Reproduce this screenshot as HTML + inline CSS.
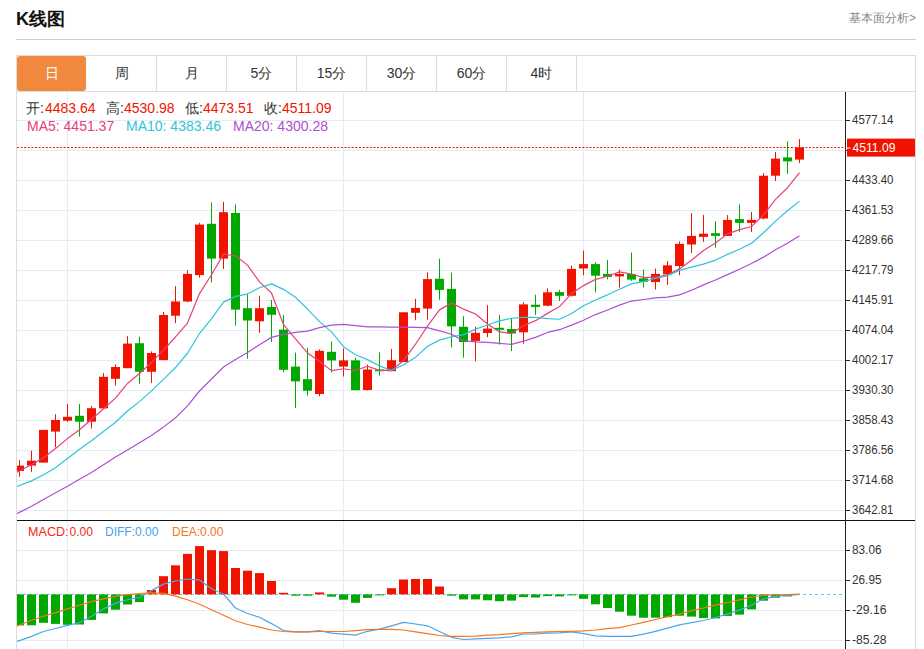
<!DOCTYPE html>
<html><head><meta charset="utf-8"><style>
html,body{margin:0;padding:0;background:#fff;}
body{width:924px;height:649px;overflow:hidden;position:relative;font-family:"Liberation Sans",sans-serif;}
.title{position:absolute;left:16px;top:8px;font-size:18px;font-weight:bold;color:#111;line-height:22px;}
.more{position:absolute;right:8px;top:10px;font-size:12px;color:#888;line-height:16px;}
.hr{position:absolute;left:16px;top:39px;width:900px;height:1px;background:#cfcfcf;}
.tabs{position:absolute;left:16px;top:55px;width:898px;height:35px;border:1px solid #dcdcdc;}
.tab{position:absolute;top:0;height:35px;width:70px;line-height:35px;text-align:center;font-size:14px;color:#333;border-right:1px solid #dcdcdc;box-sizing:border-box;}
.tab.on{background:#f0883e;color:#fff;border-right:none;border-radius:3px;top:0px;height:35px;line-height:35px;}
svg{position:absolute;left:0;top:0;}
.ax{font-size:13px;fill:#333;}
.leg{position:absolute;font-size:14px;white-space:nowrap;line-height:16px;}
.leg span{position:absolute;top:0;}
</style></head><body>
<div class="title">K线图</div>
<div class="more">基本面分析&gt;</div>
<div class="hr"></div>
<div class="tabs">
<div class="tab on" style="left:0px;width:69px">日</div>
<div class="tab" style="left:70px">周</div>
<div class="tab" style="left:140px">月</div>
<div class="tab" style="left:210px">5分</div>
<div class="tab" style="left:280px">15分</div>
<div class="tab" style="left:350px">30分</div>
<div class="tab" style="left:420px">60分</div>
<div class="tab" style="left:490px">4时</div>
</div>
<svg width="924" height="649" viewBox="0 0 924 649" style="font-family:'Liberation Sans',sans-serif">
<line x1="17" y1="120.5" x2="845" y2="120.5" stroke="#e3ecf3" stroke-width="1"/>
<line x1="17" y1="150.5" x2="845" y2="150.5" stroke="#e3ecf3" stroke-width="1"/>
<line x1="17" y1="180.5" x2="845" y2="180.5" stroke="#e3ecf3" stroke-width="1"/>
<line x1="17" y1="210.5" x2="845" y2="210.5" stroke="#e3ecf3" stroke-width="1"/>
<line x1="17" y1="240.5" x2="845" y2="240.5" stroke="#e3ecf3" stroke-width="1"/>
<line x1="17" y1="270.5" x2="845" y2="270.5" stroke="#e3ecf3" stroke-width="1"/>
<line x1="17" y1="300.5" x2="845" y2="300.5" stroke="#e3ecf3" stroke-width="1"/>
<line x1="17" y1="330.5" x2="845" y2="330.5" stroke="#e3ecf3" stroke-width="1"/>
<line x1="17" y1="360.5" x2="845" y2="360.5" stroke="#e3ecf3" stroke-width="1"/>
<line x1="17" y1="390.5" x2="845" y2="390.5" stroke="#e3ecf3" stroke-width="1"/>
<line x1="17" y1="420.5" x2="845" y2="420.5" stroke="#e3ecf3" stroke-width="1"/>
<line x1="17" y1="450.5" x2="845" y2="450.5" stroke="#e3ecf3" stroke-width="1"/>
<line x1="17" y1="480.5" x2="845" y2="480.5" stroke="#e3ecf3" stroke-width="1"/>
<line x1="17" y1="510.5" x2="845" y2="510.5" stroke="#e3ecf3" stroke-width="1"/>
<line x1="67.5" y1="92" x2="67.5" y2="520" stroke="#e3ecf3" stroke-width="1"/>
<line x1="67.5" y1="521" x2="67.5" y2="649" stroke="#e3ecf3" stroke-width="1"/>
<line x1="343.5" y1="92" x2="343.5" y2="520" stroke="#e3ecf3" stroke-width="1"/>
<line x1="343.5" y1="521" x2="343.5" y2="649" stroke="#e3ecf3" stroke-width="1"/>
<line x1="583.5" y1="92" x2="583.5" y2="520" stroke="#e3ecf3" stroke-width="1"/>
<line x1="583.5" y1="521" x2="583.5" y2="649" stroke="#e3ecf3" stroke-width="1"/>
<line x1="17" y1="550.5" x2="845" y2="550.5" stroke="#e3ecf3" stroke-width="1"/>
<line x1="17" y1="580.5" x2="845" y2="580.5" stroke="#e3ecf3" stroke-width="1"/>
<line x1="17" y1="610.5" x2="845" y2="610.5" stroke="#e3ecf3" stroke-width="1"/>
<line x1="17" y1="640.5" x2="845" y2="640.5" stroke="#e3ecf3" stroke-width="1"/>
<defs><clipPath id="cm"><rect x="17" y="92" width="828" height="428"/></clipPath><clipPath id="cd"><rect x="17" y="521" width="828" height="128"/></clipPath></defs>
<g clip-path="url(#cm)">
<rect x="19" y="460.2" width="1" height="16.5" fill="#f01400"/>
<rect x="15" y="465.6" width="9" height="5.4" fill="#f01400"/>
<rect x="31" y="450.8" width="1" height="21" fill="#f01400"/>
<rect x="27" y="460.7" width="9" height="4.9" fill="#f01400"/>
<rect x="43" y="429.9" width="1" height="32.7" fill="#f01400"/>
<rect x="39" y="429.9" width="9" height="32.7" fill="#f01400"/>
<rect x="55" y="414.3" width="1" height="32.8" fill="#f01400"/>
<rect x="51" y="420" width="9" height="11.6" fill="#f01400"/>
<rect x="67" y="404" width="1" height="17.7" fill="#f01400"/>
<rect x="63" y="416.8" width="9" height="3.9" fill="#f01400"/>
<rect x="79" y="404" width="1" height="32.5" fill="#00a800"/>
<rect x="75" y="415.8" width="9" height="5.9" fill="#00a800"/>
<rect x="91" y="405.9" width="1" height="22.7" fill="#f01400"/>
<rect x="87" y="408.2" width="9" height="13.5" fill="#f01400"/>
<rect x="103" y="373.1" width="1" height="35.3" fill="#f01400"/>
<rect x="99" y="376.8" width="9" height="31.6" fill="#f01400"/>
<rect x="115" y="364.5" width="1" height="21" fill="#f01400"/>
<rect x="111" y="367" width="9" height="11.8" fill="#f01400"/>
<rect x="127" y="336.2" width="1" height="32" fill="#f01400"/>
<rect x="123" y="343.6" width="9" height="24.6" fill="#f01400"/>
<rect x="139" y="336.6" width="1" height="47.3" fill="#00a800"/>
<rect x="135" y="343.2" width="9" height="28.6" fill="#00a800"/>
<rect x="151" y="351.4" width="1" height="31.5" fill="#f01400"/>
<rect x="147" y="353" width="9" height="18.8" fill="#f01400"/>
<rect x="163" y="312" width="1" height="48.1" fill="#f01400"/>
<rect x="159" y="315" width="9" height="45.1" fill="#f01400"/>
<rect x="175" y="286.2" width="1" height="36.9" fill="#f01400"/>
<rect x="171" y="301.5" width="9" height="14.2" fill="#f01400"/>
<rect x="187" y="270.2" width="1" height="32" fill="#f01400"/>
<rect x="183" y="273.9" width="9" height="27.6" fill="#f01400"/>
<rect x="199" y="222.8" width="1" height="54.8" fill="#f01400"/>
<rect x="195" y="224.6" width="9" height="50.5" fill="#f01400"/>
<rect x="211" y="202.4" width="1" height="80.1" fill="#00a800"/>
<rect x="207" y="223.8" width="9" height="34.8" fill="#00a800"/>
<rect x="223" y="201.9" width="1" height="67" fill="#f01400"/>
<rect x="219" y="212.2" width="9" height="46.4" fill="#f01400"/>
<rect x="235" y="204.4" width="1" height="121.2" fill="#00a800"/>
<rect x="231" y="213" width="9" height="96.6" fill="#00a800"/>
<rect x="247" y="293.4" width="1" height="65.3" fill="#00a800"/>
<rect x="243" y="308.2" width="9" height="12.3" fill="#00a800"/>
<rect x="259" y="295.9" width="1" height="36.9" fill="#f01400"/>
<rect x="255" y="308.2" width="9" height="13.1" fill="#f01400"/>
<rect x="271" y="300" width="1" height="42" fill="#00a800"/>
<rect x="267" y="307" width="9" height="7.8" fill="#00a800"/>
<rect x="283" y="315.1" width="1" height="57.2" fill="#00a800"/>
<rect x="279" y="329.6" width="9" height="40.2" fill="#00a800"/>
<rect x="295" y="352.6" width="1" height="55.4" fill="#00a800"/>
<rect x="291" y="366.6" width="9" height="14.8" fill="#00a800"/>
<rect x="307" y="347.9" width="1" height="47.8" fill="#00a800"/>
<rect x="303" y="379.2" width="9" height="11.5" fill="#00a800"/>
<rect x="319" y="349.3" width="1" height="46.9" fill="#f01400"/>
<rect x="315" y="350.8" width="9" height="43.2" fill="#f01400"/>
<rect x="331" y="341.5" width="1" height="30.8" fill="#00a800"/>
<rect x="327" y="351.8" width="9" height="8.6" fill="#00a800"/>
<rect x="343" y="348.4" width="1" height="28.1" fill="#f01400"/>
<rect x="339" y="360.4" width="9" height="6.2" fill="#f01400"/>
<rect x="355" y="357.5" width="1" height="32.7" fill="#00a800"/>
<rect x="351" y="360.4" width="9" height="29.8" fill="#00a800"/>
<rect x="367" y="364.6" width="1" height="25.9" fill="#f01400"/>
<rect x="363" y="369.5" width="9" height="20.5" fill="#f01400"/>
<rect x="379" y="352.3" width="1" height="23.4" fill="#00a800"/>
<rect x="375" y="369.5" width="9" height="1.7" fill="#00a800"/>
<rect x="391" y="349" width="1" height="22.2" fill="#f01400"/>
<rect x="387" y="360.2" width="9" height="11" fill="#f01400"/>
<rect x="403" y="312.3" width="1" height="49.8" fill="#f01400"/>
<rect x="399" y="312.3" width="9" height="49.8" fill="#f01400"/>
<rect x="415" y="298.8" width="1" height="21.4" fill="#f01400"/>
<rect x="411" y="307.9" width="9" height="4.9" fill="#f01400"/>
<rect x="427" y="272.2" width="1" height="47.3" fill="#f01400"/>
<rect x="423" y="279.1" width="9" height="29.5" fill="#f01400"/>
<rect x="439" y="258.6" width="1" height="41.2" fill="#00a800"/>
<rect x="435" y="278.8" width="9" height="11.1" fill="#00a800"/>
<rect x="451" y="272.7" width="1" height="74.6" fill="#00a800"/>
<rect x="447" y="288.9" width="9" height="37.5" fill="#00a800"/>
<rect x="463" y="316.2" width="1" height="41.4" fill="#00a800"/>
<rect x="459" y="326.8" width="9" height="15.3" fill="#00a800"/>
<rect x="475" y="326.8" width="1" height="34.5" fill="#f01400"/>
<rect x="471" y="332.8" width="9" height="8.1" fill="#f01400"/>
<rect x="487" y="305.2" width="1" height="32" fill="#f01400"/>
<rect x="483" y="328.6" width="9" height="4.4" fill="#f01400"/>
<rect x="499" y="315" width="1" height="29.6" fill="#00a800"/>
<rect x="495" y="327.8" width="9" height="2" fill="#00a800"/>
<rect x="511" y="318.2" width="1" height="33" fill="#00a800"/>
<rect x="507" y="329" width="9" height="4.5" fill="#00a800"/>
<rect x="523" y="302.2" width="1" height="41.6" fill="#f01400"/>
<rect x="519" y="304.4" width="9" height="27.9" fill="#f01400"/>
<rect x="535" y="294.6" width="1" height="20.4" fill="#00a800"/>
<rect x="531" y="304.7" width="9" height="2.2" fill="#00a800"/>
<rect x="547" y="288.4" width="1" height="18" fill="#f01400"/>
<rect x="543" y="292.3" width="9" height="13.4" fill="#f01400"/>
<rect x="559" y="289.9" width="1" height="11.1" fill="#00a800"/>
<rect x="555" y="292.1" width="9" height="3.7" fill="#00a800"/>
<rect x="571" y="265.7" width="1" height="30.8" fill="#f01400"/>
<rect x="567" y="268.9" width="9" height="26.9" fill="#f01400"/>
<rect x="583" y="250.5" width="1" height="24.7" fill="#f01400"/>
<rect x="579" y="264.1" width="9" height="4.4" fill="#f01400"/>
<rect x="595" y="262.3" width="1" height="30.1" fill="#00a800"/>
<rect x="591" y="264.1" width="9" height="11.6" fill="#00a800"/>
<rect x="607" y="259.9" width="1" height="19.5" fill="#00a800"/>
<rect x="603" y="273.9" width="9" height="3" fill="#00a800"/>
<rect x="619" y="269.7" width="1" height="17.8" fill="#f01400"/>
<rect x="615" y="273.9" width="9" height="2.5" fill="#f01400"/>
<rect x="631" y="252.5" width="1" height="28.3" fill="#00a800"/>
<rect x="627" y="273.9" width="9" height="5.7" fill="#00a800"/>
<rect x="643" y="269.5" width="1" height="18" fill="#00a800"/>
<rect x="639" y="278.4" width="9" height="3.4" fill="#00a800"/>
<rect x="655" y="268.5" width="1" height="21" fill="#f01400"/>
<rect x="651" y="273.9" width="9" height="8.2" fill="#f01400"/>
<rect x="667" y="261.1" width="1" height="23.9" fill="#f01400"/>
<rect x="663" y="265.3" width="9" height="9.1" fill="#f01400"/>
<rect x="679" y="241.4" width="1" height="33.8" fill="#f01400"/>
<rect x="675" y="243.9" width="9" height="22.1" fill="#f01400"/>
<rect x="691" y="213.2" width="1" height="39.9" fill="#f01400"/>
<rect x="687" y="235.9" width="9" height="8.6" fill="#f01400"/>
<rect x="703" y="214.8" width="1" height="27" fill="#f01400"/>
<rect x="699" y="233.7" width="9" height="3.2" fill="#f01400"/>
<rect x="715" y="221.1" width="1" height="26.6" fill="#00a800"/>
<rect x="711" y="233.2" width="9" height="2.7" fill="#00a800"/>
<rect x="727" y="215.1" width="1" height="20.8" fill="#f01400"/>
<rect x="723" y="219.9" width="9" height="16" fill="#f01400"/>
<rect x="739" y="204.4" width="1" height="27.7" fill="#00a800"/>
<rect x="735" y="219.1" width="9" height="3.8" fill="#00a800"/>
<rect x="751" y="212.1" width="1" height="19.8" fill="#f01400"/>
<rect x="747" y="219.9" width="9" height="3" fill="#f01400"/>
<rect x="763" y="173.1" width="1" height="46.4" fill="#f01400"/>
<rect x="759" y="175.7" width="9" height="42.8" fill="#f01400"/>
<rect x="775" y="152" width="1" height="29.1" fill="#f01400"/>
<rect x="771" y="158.6" width="9" height="17.1" fill="#f01400"/>
<rect x="787" y="141.4" width="1" height="32.3" fill="#00a800"/>
<rect x="783" y="157.4" width="9" height="4" fill="#00a800"/>
<rect x="799" y="139" width="1" height="24" fill="#f01400"/>
<rect x="795" y="147.4" width="9" height="12.2" fill="#f01400"/>
<polyline points="7.5,476.9 19.5,470.8 31.5,464.7 43.5,457.8 55.5,448.5 67.5,438.6 79.5,429.82 91.5,419.32 103.5,408.7 115.5,398.1 127.5,383.46 139.5,373.48 151.5,362.44 163.5,350.08 175.5,336.98 187.5,323.04 199.5,293.6 211.5,274.72 223.5,254.16 235.5,255.78 247.5,265.1 259.5,281.82 271.5,293.06 283.5,324.58 295.5,338.94 307.5,352.98 319.5,361.5 331.5,370.62 343.5,368.74 355.5,370.5 367.5,366.26 379.5,370.34 391.5,370.3 403.5,360.68 415.5,344.22 427.5,326.14 439.5,309.88 451.5,303.12 463.5,309.08 475.5,314.06 487.5,323.96 499.5,331.94 511.5,333.36 523.5,325.82 535.5,320.64 547.5,313.38 559.5,306.58 571.5,293.66 583.5,285.6 595.5,279.36 607.5,276.28 619.5,271.9 631.5,274.04 643.5,277.58 655.5,277.22 667.5,274.9 679.5,268.9 691.5,260.16 703.5,250.54 715.5,242.94 727.5,233.86 739.5,229.66 751.5,226.46 763.5,214.86 775.5,199.4 787.5,187.7 799.5,172.6" fill="none" stroke="#e8407a" stroke-width="1.2" stroke-linejoin="round"/>
<polyline points="7.5,490.1 19.5,485.5 31.5,480.9 43.5,474.7 55.5,467.8 67.5,458.5 79.5,449.3 91.5,440.8 103.5,431.6 115.5,422.3 127.5,411.03 139.5,401.65 151.5,390.88 163.5,379.39 175.5,367.54 187.5,353.25 199.5,333.54 211.5,318.58 223.5,302.12 235.5,296.38 247.5,294.07 259.5,287.71 271.5,283.89 283.5,289.37 295.5,297.36 307.5,309.04 319.5,321.66 331.5,331.84 343.5,346.66 355.5,354.72 367.5,359.62 379.5,365.92 391.5,370.46 403.5,364.71 415.5,357.36 427.5,346.2 439.5,340.11 451.5,336.71 463.5,334.88 475.5,329.14 487.5,325.05 499.5,320.91 511.5,318.24 523.5,317.45 535.5,317.35 547.5,318.67 559.5,319.26 571.5,313.51 583.5,305.71 595.5,300 607.5,294.83 619.5,289.24 631.5,283.85 643.5,281.59 655.5,278.29 667.5,275.59 679.5,270.4 691.5,267.1 703.5,264.06 715.5,260.08 727.5,254.38 739.5,249.28 751.5,243.31 763.5,232.7 775.5,221.17 787.5,210.78 799.5,201.13" fill="none" stroke="#2ec4da" stroke-width="1.2" stroke-linejoin="round"/>
<polyline points="7.5,518.5 19.5,512.4 31.5,506.3 43.5,499.4 55.5,492.7 67.5,486.3 79.5,479.3 91.5,472.4 103.5,464.7 115.5,457 127.5,450 139.5,442.8 151.5,435.4 163.5,427.1 175.5,417.8 187.5,405.8 199.5,391 211.5,379 223.5,367 235.5,359.6 247.5,352.55 259.5,344.68 271.5,337.38 283.5,334.38 295.5,332.45 307.5,331.14 319.5,327.6 331.5,325.21 343.5,324.39 355.5,325.55 367.5,326.84 379.5,326.81 391.5,327.18 403.5,327.04 415.5,327.36 427.5,327.62 439.5,330.88 451.5,334.27 463.5,340.77 475.5,341.93 487.5,342.33 499.5,343.42 511.5,344.35 523.5,341.08 535.5,337.36 547.5,332.44 559.5,329.69 571.5,325.11 583.5,320.29 595.5,314.57 607.5,309.94 619.5,305.07 631.5,301.04 643.5,299.52 655.5,297.82 667.5,297.13 679.5,294.83 691.5,290.31 703.5,284.88 715.5,280.04 727.5,274.61 739.5,269.26 751.5,263.58 763.5,257.14 775.5,249.73 787.5,243.19 799.5,235.77" fill="none" stroke="#b04ed0" stroke-width="1.2" stroke-linejoin="round"/>
</g>
<line x1="17" y1="147.5" x2="845" y2="147.5" stroke="#f01400" stroke-width="1" stroke-dasharray="2 1.6"/>
<g clip-path="url(#cd)">
<line x1="17" y1="594.5" x2="845" y2="594.5" stroke="#6ec3ec" stroke-width="1" stroke-dasharray="3 3"/>
<rect x="15" y="594.4" width="9" height="31" fill="#00a800"/>
<rect x="27" y="594.4" width="9" height="30.9" fill="#00a800"/>
<rect x="39" y="594.4" width="9" height="28.4" fill="#00a800"/>
<rect x="51" y="594.4" width="9" height="29.5" fill="#00a800"/>
<rect x="63" y="594.4" width="9" height="30.4" fill="#00a800"/>
<rect x="75" y="594.4" width="9" height="30.1" fill="#00a800"/>
<rect x="87" y="594.4" width="9" height="25.5" fill="#00a800"/>
<rect x="99" y="594.4" width="9" height="19" fill="#00a800"/>
<rect x="111" y="594.4" width="9" height="15.3" fill="#00a800"/>
<rect x="123" y="594.4" width="9" height="10.1" fill="#00a800"/>
<rect x="135" y="594.4" width="9" height="7.7" fill="#00a800"/>
<rect x="147" y="590" width="9" height="4.4" fill="#f01400"/>
<rect x="159" y="576.2" width="9" height="18.2" fill="#f01400"/>
<rect x="171" y="565.3" width="9" height="29.1" fill="#f01400"/>
<rect x="183" y="553.9" width="9" height="40.5" fill="#f01400"/>
<rect x="195" y="546.1" width="9" height="48.3" fill="#f01400"/>
<rect x="207" y="550.2" width="9" height="44.2" fill="#f01400"/>
<rect x="219" y="551.1" width="9" height="43.3" fill="#f01400"/>
<rect x="231" y="568" width="9" height="26.4" fill="#f01400"/>
<rect x="243" y="570.7" width="9" height="23.7" fill="#f01400"/>
<rect x="255" y="573.1" width="9" height="21.3" fill="#f01400"/>
<rect x="267" y="581" width="9" height="13.4" fill="#f01400"/>
<rect x="279" y="592.8" width="9" height="1.6" fill="#f01400"/>
<rect x="291" y="594.4" width="9" height="1.3" fill="#00a800"/>
<rect x="303" y="594.4" width="9" height="1.3" fill="#00a800"/>
<rect x="315" y="592.4" width="9" height="2" fill="#f01400"/>
<rect x="327" y="594.4" width="9" height="2.2" fill="#00a800"/>
<rect x="339" y="594.4" width="9" height="5.3" fill="#00a800"/>
<rect x="351" y="594.4" width="9" height="8.4" fill="#00a800"/>
<rect x="363" y="594.4" width="9" height="3.5" fill="#00a800"/>
<rect x="375" y="594.4" width="9" height="1" fill="#00a800"/>
<rect x="387" y="588.2" width="9" height="6.2" fill="#f01400"/>
<rect x="399" y="579.5" width="9" height="14.9" fill="#f01400"/>
<rect x="411" y="579" width="9" height="15.4" fill="#f01400"/>
<rect x="423" y="579" width="9" height="15.4" fill="#f01400"/>
<rect x="435" y="586.5" width="9" height="7.9" fill="#f01400"/>
<rect x="447" y="594.4" width="9" height="1.3" fill="#00a800"/>
<rect x="459" y="594.4" width="9" height="5" fill="#00a800"/>
<rect x="471" y="594.4" width="9" height="5" fill="#00a800"/>
<rect x="483" y="594.4" width="9" height="5.9" fill="#00a800"/>
<rect x="495" y="594.4" width="9" height="6.8" fill="#00a800"/>
<rect x="507" y="594.4" width="9" height="6.2" fill="#00a800"/>
<rect x="519" y="594.4" width="9" height="2.6" fill="#00a800"/>
<rect x="531" y="594.4" width="9" height="3.1" fill="#00a800"/>
<rect x="543" y="594.4" width="9" height="1.7" fill="#00a800"/>
<rect x="555" y="594.4" width="9" height="2" fill="#00a800"/>
<rect x="567" y="594.4" width="9" height="1" fill="#00a800"/>
<rect x="579" y="594.4" width="9" height="4.4" fill="#00a800"/>
<rect x="591" y="594.4" width="9" height="9.9" fill="#00a800"/>
<rect x="603" y="594.4" width="9" height="13.6" fill="#00a800"/>
<rect x="615" y="594.4" width="9" height="17.3" fill="#00a800"/>
<rect x="627" y="594.4" width="9" height="21.3" fill="#00a800"/>
<rect x="639" y="594.4" width="9" height="23.3" fill="#00a800"/>
<rect x="651" y="594.4" width="9" height="23.3" fill="#00a800"/>
<rect x="663" y="594.4" width="9" height="22.8" fill="#00a800"/>
<rect x="675" y="594.4" width="9" height="21.3" fill="#00a800"/>
<rect x="687" y="594.4" width="9" height="22.2" fill="#00a800"/>
<rect x="699" y="594.4" width="9" height="23.7" fill="#00a800"/>
<rect x="711" y="594.4" width="9" height="24" fill="#00a800"/>
<rect x="723" y="594.4" width="9" height="21.5" fill="#00a800"/>
<rect x="735" y="594.4" width="9" height="20.2" fill="#00a800"/>
<rect x="747" y="594.4" width="9" height="15" fill="#00a800"/>
<rect x="759" y="594.4" width="9" height="6.3" fill="#00a800"/>
<rect x="771" y="594.4" width="9" height="3.3" fill="#00a800"/>
<rect x="783" y="594.4" width="9" height="2" fill="#00a800"/>
<polyline points="7.5,644.8 19.5,640.6 31.5,636.4 43.5,631.5 55.5,628.5 67.5,625.4 79.5,622.7 91.5,616.2 103.5,608.9 115.5,603.4 127.5,599.7 139.5,597.5 151.5,590.6 163.5,584.1 175.5,581 187.5,579 199.5,579.9 211.5,588.7 223.5,594.2 235.5,608 247.5,613.5 259.5,617.2 271.5,623.6 283.5,630.6 295.5,631.8 307.5,631.8 319.5,630.6 331.5,633.1 343.5,634.2 355.5,635.1 367.5,631.3 379.5,629.1 391.5,625.8 403.5,622.3 415.5,624 427.5,625.8 439.5,631.5 451.5,637.3 463.5,639.5 475.5,638.8 487.5,638.3 499.5,637.8 511.5,636.8 523.5,634 535.5,634 547.5,633.1 559.5,632.8 571.5,631.8 583.5,633.7 595.5,635.9 607.5,636.4 619.5,636.4 631.5,636.4 643.5,634.2 655.5,631.3 667.5,628.2 679.5,624.9 691.5,622.7 703.5,620.5 715.5,617.5 727.5,613.9 739.5,610.1 751.5,605.3 763.5,598.8 775.5,596.4 787.5,595.4 799.5,594.3" fill="none" stroke="#4aa6ee" stroke-width="1.2" stroke-linejoin="round"/>
<polyline points="7.5,629.7 19.5,625 31.5,620.3 43.5,616.2 55.5,612.6 67.5,608.9 79.5,605.2 91.5,601.6 103.5,598.8 115.5,596.4 127.5,594.6 139.5,593.5 151.5,592.9 163.5,593.3 175.5,596.1 187.5,599.7 199.5,604.3 211.5,609.8 223.5,615.3 235.5,620.8 247.5,624.5 259.5,627.2 271.5,630 283.5,631.5 295.5,631.8 307.5,631.8 319.5,631.5 331.5,631.5 343.5,631.5 355.5,630.6 367.5,629.6 379.5,629.4 391.5,629.4 403.5,630 415.5,631.8 427.5,633.7 439.5,635.5 451.5,636.4 463.5,636.4 475.5,636.1 487.5,635.1 499.5,634.6 511.5,633.7 523.5,632.8 535.5,632.4 547.5,631.8 559.5,631.5 571.5,631.3 583.5,630.9 595.5,630 607.5,628.7 619.5,627.7 631.5,625 643.5,622.3 655.5,619.5 667.5,616.6 679.5,614 691.5,610.7 703.5,608 715.5,605.2 727.5,602.5 739.5,599.8 751.5,597 763.5,595.4 775.5,595 787.5,594.6 799.5,594" fill="none" stroke="#f5761f" stroke-width="1.2" stroke-linejoin="round"/>
</g>
<line x1="16.5" y1="91" x2="16.5" y2="649" stroke="#dcdcdc" stroke-width="1"/>
<line x1="915.5" y1="91" x2="915.5" y2="649" stroke="#dcdcdc" stroke-width="1"/>
<line x1="17" y1="520.5" x2="915" y2="520.5" stroke="#111" stroke-width="1"/>
<line x1="845.5" y1="92" x2="845.5" y2="649" stroke="#222" stroke-width="1"/>
<line x1="846" y1="120.5" x2="850" y2="120.5" stroke="#222" stroke-width="1"/>
<text x="852" y="124.4" class="ax" textLength="41.5" lengthAdjust="spacingAndGlyphs">4577.14</text>
<line x1="846" y1="150.5" x2="850" y2="150.5" stroke="#222" stroke-width="1"/>
<line x1="846" y1="180.5" x2="850" y2="180.5" stroke="#222" stroke-width="1"/>
<text x="852" y="184.4" class="ax" textLength="41.5" lengthAdjust="spacingAndGlyphs">4433.40</text>
<line x1="846" y1="210.5" x2="850" y2="210.5" stroke="#222" stroke-width="1"/>
<text x="852" y="214.4" class="ax" textLength="41.5" lengthAdjust="spacingAndGlyphs">4361.53</text>
<line x1="846" y1="240.5" x2="850" y2="240.5" stroke="#222" stroke-width="1"/>
<text x="852" y="244.4" class="ax" textLength="41.5" lengthAdjust="spacingAndGlyphs">4289.66</text>
<line x1="846" y1="270.5" x2="850" y2="270.5" stroke="#222" stroke-width="1"/>
<text x="852" y="274.4" class="ax" textLength="41.5" lengthAdjust="spacingAndGlyphs">4217.79</text>
<line x1="846" y1="300.5" x2="850" y2="300.5" stroke="#222" stroke-width="1"/>
<text x="852" y="304.4" class="ax" textLength="41.5" lengthAdjust="spacingAndGlyphs">4145.91</text>
<line x1="846" y1="330.5" x2="850" y2="330.5" stroke="#222" stroke-width="1"/>
<text x="852" y="334.4" class="ax" textLength="41.5" lengthAdjust="spacingAndGlyphs">4074.04</text>
<line x1="846" y1="360.5" x2="850" y2="360.5" stroke="#222" stroke-width="1"/>
<text x="852" y="364.4" class="ax" textLength="41.5" lengthAdjust="spacingAndGlyphs">4002.17</text>
<line x1="846" y1="390.5" x2="850" y2="390.5" stroke="#222" stroke-width="1"/>
<text x="852" y="394.4" class="ax" textLength="41.5" lengthAdjust="spacingAndGlyphs">3930.30</text>
<line x1="846" y1="420.5" x2="850" y2="420.5" stroke="#222" stroke-width="1"/>
<text x="852" y="424.4" class="ax" textLength="41.5" lengthAdjust="spacingAndGlyphs">3858.43</text>
<line x1="846" y1="450.5" x2="850" y2="450.5" stroke="#222" stroke-width="1"/>
<text x="852" y="454.4" class="ax" textLength="41.5" lengthAdjust="spacingAndGlyphs">3786.56</text>
<line x1="846" y1="480.5" x2="850" y2="480.5" stroke="#222" stroke-width="1"/>
<text x="852" y="484.4" class="ax" textLength="41.5" lengthAdjust="spacingAndGlyphs">3714.68</text>
<line x1="846" y1="510.5" x2="850" y2="510.5" stroke="#222" stroke-width="1"/>
<text x="852" y="514.4" class="ax" textLength="41.5" lengthAdjust="spacingAndGlyphs">3642.81</text>
<line x1="846" y1="550.5" x2="850" y2="550.5" stroke="#222" stroke-width="1"/>
<text x="852" y="554.4" class="ax" textLength="29.5" lengthAdjust="spacingAndGlyphs">83.06</text>
<line x1="846" y1="580.5" x2="850" y2="580.5" stroke="#222" stroke-width="1"/>
<text x="852" y="584.4" class="ax" textLength="29.5" lengthAdjust="spacingAndGlyphs">26.95</text>
<line x1="846" y1="610.5" x2="850" y2="610.5" stroke="#222" stroke-width="1"/>
<text x="852" y="614.4" class="ax" textLength="34.5" lengthAdjust="spacingAndGlyphs">-29.16</text>
<line x1="846" y1="640.5" x2="850" y2="640.5" stroke="#222" stroke-width="1"/>
<text x="852" y="644.4" class="ax" textLength="34.5" lengthAdjust="spacingAndGlyphs">-85.28</text>
<rect x="847" y="138.6" width="68" height="18" fill="#f01400"/>
<line x1="847" y1="148" x2="850.5" y2="148" stroke="#fff" stroke-width="1"/>
<text x="852.5" y="151.8" class="ax" fill="#fff" style="fill:#fff" textLength="43" lengthAdjust="spacingAndGlyphs">4511.09</text>
</svg>
<div class="leg" style="left:26px;top:100px;color:#333">
<span style="left:0">开:</span><span style="left:19px;color:#f01400">4483.64</span>
<span style="left:80px">高:</span><span style="left:98px;color:#f01400">4530.98</span>
<span style="left:159px">低:</span><span style="left:177px;color:#f01400">4473.51</span>
<span style="left:238px">收:</span><span style="left:256px;color:#f01400">4511.09</span>
</div>
<div class="leg" style="left:27px;top:118px">
<span style="left:0;color:#e8407a">MA5: 4451.37</span>
<span style="left:99px;color:#2ec4da">MA10: 4383.46</span>
<span style="left:206px;color:#b04ed0">MA20: 4300.28</span>
</div>
<div class="leg" style="left:27px;top:524px;font-size:12px">
<span style="left:1px;color:#f02a1a;font-size:12.6px">MACD:</span><span style="left:42.5px;color:#f02a1a">0.00</span>
<span style="left:78px;color:#45a3ec">DIFF:0.00</span>
<span style="left:145px;color:#f5761f">DEA:0.00</span>
</div>
</body></html>
